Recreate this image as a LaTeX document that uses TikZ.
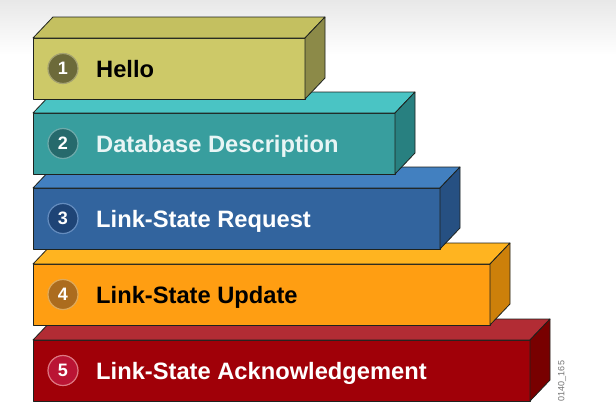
\documentclass[tikz,border=0pt]{standalone}
\usepackage{fontspec}
\setmainfont{Liberation Sans}
\definecolor{fA}{RGB}{205,201,104}\definecolor{tA}{RGB}{196,192,96}\definecolor{sA}{RGB}{140,138,72}\definecolor{cA}{RGB}{108,106,58}\definecolor{rA}{RGB}{165,162,112}
\definecolor{fB}{RGB}{56,158,158}\definecolor{tB}{RGB}{74,196,196}\definecolor{sB}{RGB}{40,128,128}\definecolor{cB}{RGB}{38,106,108}\definecolor{rB}{RGB}{110,170,170}\definecolor{xB}{RGB}{232,245,245}
\definecolor{fC}{RGB}{50,100,158}\definecolor{tC}{RGB}{66,128,192}\definecolor{sC}{RGB}{38,80,130}\definecolor{cC}{RGB}{30,68,118}\definecolor{rC}{RGB}{100,140,190}
\definecolor{fD}{RGB}{255,158,18}\definecolor{tD}{RGB}{255,180,32}\definecolor{sD}{RGB}{205,128,10}\definecolor{cD}{RGB}{172,108,30}\definecolor{rD}{RGB}{222,170,92}
\definecolor{fE}{RGB}{160,0,8}\definecolor{tE}{RGB}{178,44,52}\definecolor{sE}{RGB}{120,0,0}\definecolor{cE}{RGB}{186,20,52}\definecolor{rE}{RGB}{222,120,130}
\definecolor{edge}{RGB}{30,34,30}
\tikzset{
  face/.style={draw=edge, line width=0.8pt, line join=round},
  frontbox/.style={face, rectangle, anchor=north west, inner sep=0pt, outer sep=0pt, minimum height=61pt},
  numdisc/.style={circle, minimum size=30pt, inner sep=0pt, line width=1.2pt, font=\bfseries\fontsize{18}{18}\selectfont, text=white},
  lbl/.style={anchor=base west, inner sep=0pt, font=\bfseries\fontsize{23.7}{24}\selectfont}
}
\begin{document}
\begin{tikzpicture}[x=1pt,y=-1pt]
\useasboundingbox (0,0) rectangle (616,410);
\shade[top color=black!9, bottom color=white] (0,0) rectangle (616,55);
\foreach \n/\t/\w/\k/\txt/\tcol in {
  5/340/497/E/Link-State Acknowledgement/white,
  4/264/457/D/Link-State Update/black,
  3/188/407/C/Link-State Request/white,
  2/113/362/B/Database Description/xB,
  1/38/272/A/Hello/black}{
  \node[frontbox, fill=f\k, minimum width=\w pt] (f\n) at (33,\t) {};
  \draw[face, fill=t\k] (f\n.north west) -- ++(20,-21) -- ([shift={(20,-21)}]f\n.north east) -- (f\n.north east) -- cycle;
  \draw[face, fill=s\k] (f\n.north east) -- ++(20,-21) -- ([shift={(20,-21)}]f\n.south east) -- (f\n.south east) -- cycle;
  \node[numdisc, fill=c\k, draw=r\k] (c\n) at ([xshift=30pt]f\n.west) {\n};
  \node[lbl, text=\tcol] (l\n) at ([xshift=63pt,yshift=-8.5pt]f\n.west) {\txt};
}
\node[rotate=90, text=black!55, font=\fontsize{9}{9}\selectfont, inner sep=0pt] (wm) at (562,381) {0140\_165};
\end{tikzpicture}
\end{document}
